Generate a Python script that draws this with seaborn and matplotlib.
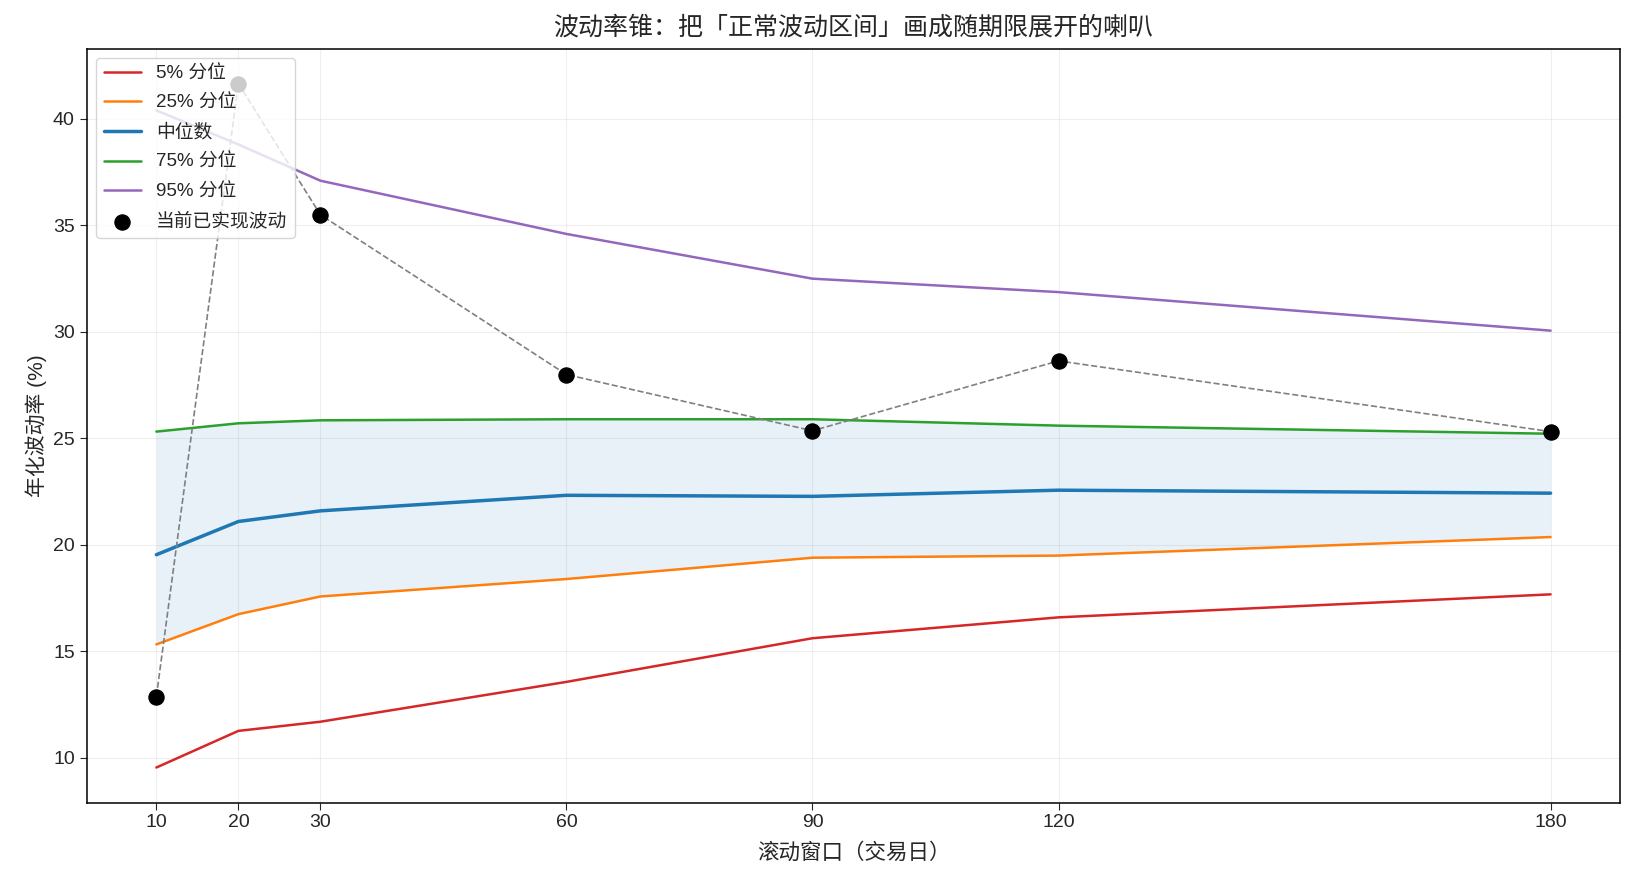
import numpy as np
import pandas as pd
import matplotlib
matplotlib.use("Agg")
import matplotlib.pyplot as plt
import seaborn as sns

# 滚动窗口与分位数（年化波动率 %）
windows = [10, 20, 30, 60, 90, 120, 180]
q05 = [9.55, 11.27, 11.7, 13.57, 15.62, 16.6, 17.68]
q25 = [15.33, 16.75, 17.58, 18.4, 19.4, 19.5, 20.37]
q50 = [19.54, 21.1, 21.6, 22.33, 22.28, 22.57, 22.43]
q75 = [25.32, 25.71, 25.85, 25.9, 25.9, 25.6, 25.22]
q95 = [40.4, 38.8, 37.1, 34.6, 32.5, 31.87, 30.06]
current = [12.88, 41.66, 35.5, 28.0, 25.36, 28.64, 25.32]

labels = ["5% 分位", "25% 分位", "中位数", "75% 分位", "95% 分位"]
colors = ["#d62728", "#ff7f0e", "#1f77b4", "#2ca02c", "#9467bd"]
widths = [1.8, 1.8, 2.5, 1.8, 1.8]

sns.set_style("white")
plt.rcParams['font.family'] = ['Liberation Sans', 'Noto Sans CJK SC', 'DejaVu Sans']
plt.rcParams['axes.unicode_minus'] = False

fig, ax = plt.subplots(figsize=(16.35, 8.84), dpi=100)
fig.subplots_adjust(left=0.053, right=0.991, top=0.945, bottom=0.092)

ax.fill_between(windows, q25, q75, color="#1f77b4", alpha=0.1, linewidth=0)

for vals, lab, c, w in zip([q05, q25, q50, q75, q95], labels, colors, widths):
    sns.lineplot(x=windows, y=vals, color=c, linewidth=w, label=lab, ax=ax)

ax.plot(windows, current, linestyle="--", color="gray", linewidth=1.2, zorder=3)
sns.scatterplot(x=windows, y=current, color="black", s=120, edgecolor="black",
                label="当前已实现波动", ax=ax, zorder=4)

ax.set_xticks(windows)
ax.set_xlim(1.5, 188.5)
ax.set_ylim(7.9, 43.3)
ax.grid(True, alpha=0.3)
ax.tick_params(axis="both", labelsize=14, length=5, bottom=True, left=True)
for s in ax.spines.values():
    s.set_color("black")
    s.set_linewidth(1.1)

ax.set_title("波动率锥：把「正常波动区间」画成随期限展开的喇叭", fontsize=18, pad=10)
ax.set_xlabel("滚动窗口（交易日）", fontsize=15.5, labelpad=8)
ax.set_ylabel("年化波动率 (%)", fontsize=15)
ax.legend(loc="upper left", fontsize=13.5, framealpha=0.8, labelspacing=0.65)

fig.savefig("out.png", dpi=100)
